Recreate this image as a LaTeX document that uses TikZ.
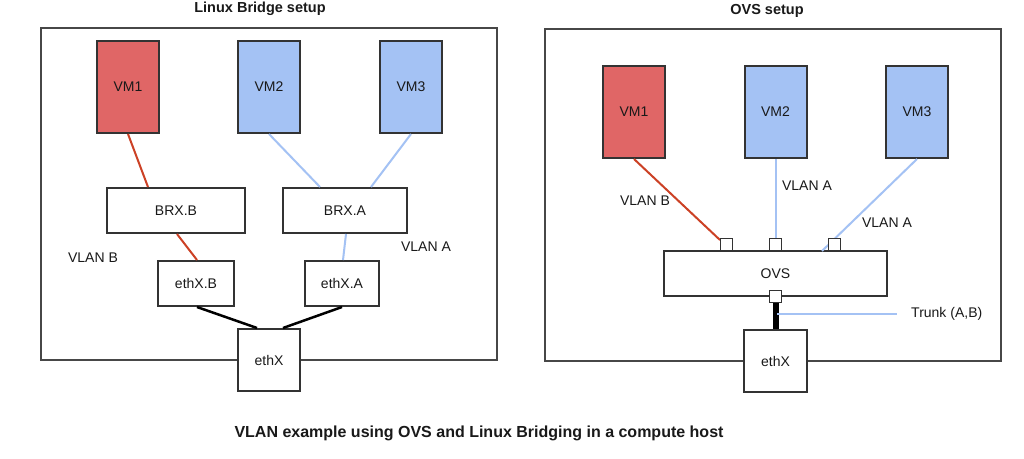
\documentclass[tikz,border=0pt]{standalone}
\usepackage{fontspec}
\setmainfont{Liberation Sans}
\usetikzlibrary{calc}
\definecolor{vmred}{HTML}{E06666}
\definecolor{vmblue}{HTML}{A4C2F4}
\definecolor{lnred}{HTML}{CC4125}
\definecolor{lnblue}{HTML}{A4C2F4}
\definecolor{edge}{HTML}{333333}
\begin{document}
\begin{tikzpicture}[x=1pt,y=-1pt,
  every node/.style={font=\fontsize{14}{16}\selectfont, text=black!90},
  box/.style={draw=edge, line width=2pt, fill=white, inner sep=0pt, minimum width=#1},
  box/.default=62pt,
  vmred/.style={box, fill=vmred, minimum height=92pt},
  vmblue/.style={box, fill=vmblue, minimum height=92pt},
  port/.style={draw=edge, line width=1.6pt, fill=white, inner sep=0pt, minimum width=12pt, minimum height=12pt},
  frame/.style={draw=edge!90, line width=2pt},
  redl/.style={draw=lnred, line width=2pt},
  bluel/.style={draw=lnblue, line width=2pt},
  blkl/.style={draw=black, line width=2.5pt},
  lbl/.style={inner sep=0pt},
  ttl/.style={font=\bfseries\fontsize{14.5}{16}\selectfont, inner sep=0pt}
]
\useasboundingbox (0,0) rectangle (1024,458);
\fill[white] (0,0) rectangle (1024,458);

% titles
\node[ttl] (t1) at (260,9) {Linux Bridge setup};
\node[ttl] (t2) at (767,11) {OVS setup};
\node[ttl, font=\bfseries\fontsize{16}{18}\selectfont] (cap) at (479,433) {VLAN example using OVS and Linux Bridging in a compute host};

% frames
\draw[frame] (41,28) rectangle (497,360);
\draw[frame] (545,29) rectangle (1001,361);

% ---------- Linux bridge ----------
\node[vmred] (lvm1) at (128,87) {VM1};
\node[vmblue] (lvm2) at (269,87) {VM2};
\node[vmblue] (lvm3) at (411,87) {VM3};
\node[box=138pt, minimum height=45pt] (brxb) at (176,210.5) {BRX.B};
\node[box=124pt, minimum height=45pt] (brxa) at (345,210.5) {BRX.A};
\node[box=76pt, minimum height=45pt] (ethxb) at (196,283.5) {ethX.B};
\node[box=74pt, minimum height=45pt] (ethxa) at (342,283.5) {ethX.A};
\node[box=62pt, minimum height=62pt] (lethx) at (269,360) {ethX};

\draw[redl] (lvm1.south) -- ($(brxb.north)+(-28,0)$);
\draw[redl] ($(brxb.south)+(1,0)$) -- ($(ethxb.north)+(1,0)$);
\draw[bluel] (lvm2.south) -- ($(brxa.north)+(-25,0)$);
\draw[bluel] (lvm3.south) -- ($(brxa.north)+(26,0)$);
\draw[bluel] ($(brxa.south)+(1,0)$) -- ($(ethxa.north)+(1,0)$);
\draw[blkl] ($(ethxb.south)+(1,0)$) -- ($(lethx.north)+(-12,0)$);
\draw[blkl] (ethxa.south) -- ($(lethx.north)+(14,0)$);

\node[lbl] (lvb) at (93,258) {VLAN B};
\node[lbl] (lva) at (426,247) {VLAN A};

% ---------- OVS ----------
\node[vmred] (rvm1) at (634,112) {VM1};
\node[vmblue] (rvm2) at (775.5,112) {VM2};
\node[vmblue] (rvm3) at (917,112) {VM3};
\node[box=223pt, minimum height=45pt] (ovs) at (775.5,273.5) {OVS};
\node[box=63pt, minimum height=62pt] (rethx) at (775.5,361) {ethX};

\draw[redl] (rvm1.south) -- (720,240);
\draw[bluel] (rvm2.south) -- (775.5,238);
\draw[bluel] (rvm3.south) -- (822,251);
\node[port] (p1) at (726.5,244.5) {};
\node[port] (p2) at (775.5,244.5) {};
\node[port] (p3) at (834.5,244.5) {};

\node[port] (pb) at (775.5,296.5) {};
\draw[draw=black, line width=6pt] (pb.south) -- (rethx.north);
\coordinate (trunkend) at (897,314);
\draw[bluel] (777,314) -- (trunkend);
\node[lbl, anchor=west] (trunk) at (911,314) {Trunk (A,B)};

\node[lbl] (rvb) at (645,201) {VLAN B};
\node[lbl] (rva1) at (807,186) {VLAN A};
\node[lbl] (rva2) at (887,223) {VLAN A};
\end{tikzpicture}
\end{document}
